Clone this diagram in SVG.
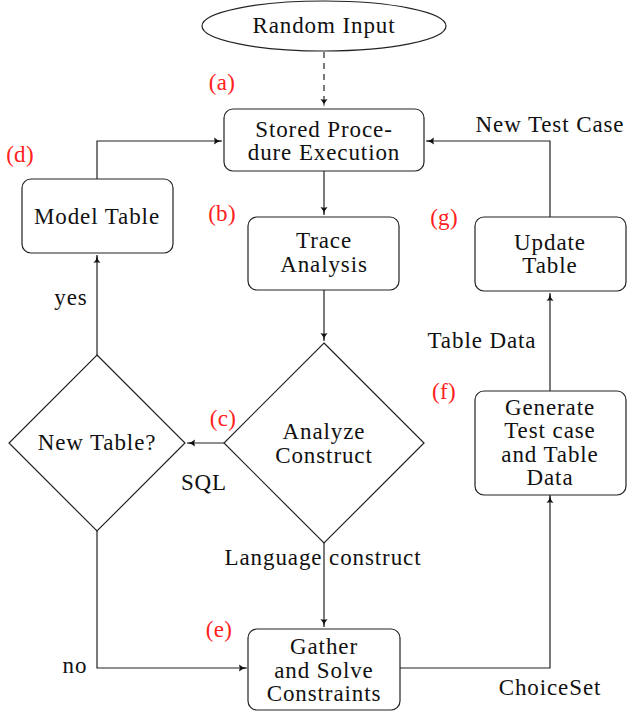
<svg xmlns="http://www.w3.org/2000/svg" width="631" height="711" viewBox="0 0 631 711">
<style>
text{font-family:'Liberation Serif','Times New Roman',serif;font-size:23px;fill:#111;text-anchor:middle;letter-spacing:0.9px}
.lbl{fill:#ff2020;letter-spacing:0.3px}
.shape{fill:#fff;stroke:#222;stroke-width:1.2}
.edge{fill:none;stroke:#222;stroke-width:1.2}
</style>
<defs>
<marker id="ah" markerWidth="10" markerHeight="8" refX="8" refY="4" orient="auto" markerUnits="userSpaceOnUse">
<path d="M0,0.5 Q3,3.5 8,4 Q3,4.5 0,7.5 Q1.5,4 0,0.5 Z" fill="#111"/>
</marker>
</defs>
<g id="connectors">
<path class="edge" d="M324,52 V107" stroke-dasharray="6,5" marker-end="url(#ah)"/>
<path class="edge" d="M324,171 V215" marker-end="url(#ah)"/>
<path class="edge" d="M324,290 V341" marker-end="url(#ah)"/>
<path class="edge" d="M224,443 H187" marker-end="url(#ah)"/>
<path class="edge" d="M97,355 V255" marker-end="url(#ah)"/>
<path class="edge" d="M97,179 V141 H222" marker-end="url(#ah)"/>
<path class="edge" d="M97,531 V668 H247" marker-end="url(#ah)"/>
<path class="edge" d="M324,543 V627" marker-end="url(#ah)"/>
<path class="edge" d="M400,668 H550 V495" marker-end="url(#ah)"/>
<path class="edge" d="M550,391 V293" marker-end="url(#ah)"/>
<path class="edge" d="M550,217 V141 H426" marker-end="url(#ah)"/>
</g>
<g id="edge-labels">
<text x="204" y="490">SQL</text>
<text x="71" y="305">yes</text>
<text x="75" y="673">no</text>
<text x="323" y="565">Language construct</text>
<text x="550" y="695">ChoiceSet</text>
<text x="482" y="348">Table Data</text>
<text x="550" y="132">New Test Case</text>
</g>
<g id="step-labels">
<text class="lbl" x="222" y="90">(a)</text>
<text class="lbl" x="222" y="221">(b)</text>
<text class="lbl" x="223" y="426">(c)</text>
<text class="lbl" x="20" y="162">(d)</text>
<text class="lbl" x="219" y="637">(e)</text>
<text class="lbl" x="444" y="399">(f)</text>
<text class="lbl" x="444" y="225">(g)</text>
</g>
<g id="random-input">
<ellipse class="shape" cx="324" cy="26" rx="122" ry="25"/>
<text x="324" y="33">Random Input</text>
</g>
<g id="stored-procedure">
<rect class="shape" x="224" y="109" width="200" height="62" rx="9"/>
<text x="324" y="137">Stored Proce-</text>
<text x="324" y="160">dure Execution</text>
</g>
<g id="model-table">
<rect class="shape" x="22" y="179" width="151" height="74" rx="9"/>
<text x="97" y="224">Model Table</text>
</g>
<g id="trace-analysis">
<rect class="shape" x="248" y="217" width="151" height="73" rx="9"/>
<text x="324" y="248">Trace</text>
<text x="324" y="272">Analysis</text>
</g>
<g id="analyze-construct">
<polygon class="shape" points="324,343 424,443 324,543 224,443"/>
<text x="324" y="439">Analyze</text>
<text x="324" y="463">Construct</text>
</g>
<g id="new-table">
<polygon class="shape" points="97,355 185,443 97,531 9,443"/>
<text x="97" y="450">New Table?</text>
</g>
<g id="gather-solve">
<rect class="shape" x="248" y="629" width="152" height="81" rx="9"/>
<text x="324" y="654">Gather</text>
<text x="324" y="678">and Solve</text>
<text x="324" y="701">Constraints</text>
</g>
<g id="generate">
<rect class="shape" x="475" y="391" width="151" height="104" rx="9"/>
<text x="550" y="415">Generate</text>
<text x="550" y="438">Test case</text>
<text x="550" y="462">and Table</text>
<text x="550" y="485">Data</text>
</g>
<g id="update-table">
<rect class="shape" x="475" y="217" width="151" height="74" rx="9"/>
<text x="550" y="250">Update</text>
<text x="550" y="273">Table</text>
</g>
</svg>
